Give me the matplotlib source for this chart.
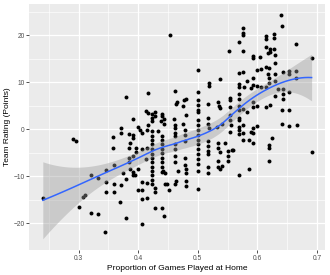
#!/usr/bin/env python
# scatter of team rating vs share of home games, with a loess smooth (ggplot look)

import numpy as np
import matplotlib
matplotlib.use("Agg")
import matplotlib.pyplot as plt

# points: (proportion of games at home, rating)
pts = [
    (0.240, -14.6), (0.290, -2.1), (0.296, -2.5), (0.300, -16.6), (0.307, -14.4),
    (0.310, -14.0), (0.321, -9.7), (0.321, -17.7), (0.333, -10.4), (0.333, -18.1),
    (0.344, -21.9), (0.346, -8.7), (0.346, -11.3), (0.346, -13.3), (0.357, -1.7),
    (0.357, -3.9), (0.359, -7.5), (0.359, -11.6), (0.359, -13.4), (0.370, -15.5),
    (0.371, 0.35), (0.371, -0.7), (0.371, -11.8), (0.375, -9.2), (0.379, 6.9),
    (0.379, -10.6), (0.379, -18.8), (0.384, -1.0), (0.384, -3.9), (0.384, -6.2),
    (0.384, -7.0), (0.387, -8.4), (0.387, -2.9), (0.391, 2.1), (0.391, -9.1),
    (0.391, -1.9), (0.392, -1.2), (0.392, -5.6), (0.392, -9.75),
    (0.397, -3.9), (0.397, -4.9), (0.400, 0.55), (0.400, -8.5), (0.400, -12.9),
    (0.395, -9.8), (0.403, -0.1), (0.406, -4.2), (0.407, -0.8), (0.407, -11.2),
    (0.407, -13.0), (0.407, -14.8), (0.407, -20.2), (0.413, 3.9), (0.413, -6.3),
    (0.414, -0.1), (0.414, -3.9), (0.414, -11.5), (0.414, -14.6), (0.416, 7.8),
    (0.416, 3.4), (0.417, 0.9),
    (0.423, 3.2), (0.423, 2.3), (0.423, 1.7), (0.423, -0.3), (0.423, -1.4),
    (0.423, -2.2), (0.423, -3.2), (0.423, -4.2), (0.423, -5.3), (0.423, -6.0),
    (0.423, -7.0), (0.423, -8.0), (0.423, -8.9), (0.423, -9.75), (0.423, -10.8),
    (0.423, -11.6), (0.428, 3.6), (0.428, 2.8), (0.428, -12.4), (0.428, -13.4),
    (0.428, -16.8), (0.434, -0.4),
    (0.440, 3.3), (0.440, 2.8), (0.439, 1.8), (0.440, -1.4), (0.440, -2.2),
    (0.440, -3.2), (0.440, -4.1), (0.440, -5.0), (0.440, -6.0), (0.440, -7.0),
    (0.440, -8.0), (0.440, -9.0), (0.440, -16.8), (0.443, 2.1), (0.443, 1.2),
    (0.444, -18.4), (0.445, -9.4), (0.445, -11.6), (0.441, -8.8), (0.448, -11.6),
    (0.452, -12.9),
    (0.454, 20.1), (0.460, 2.1), (0.461, 8.2), (0.462, 0.9), (0.462, 0.2),
    (0.462, -0.8), (0.462, -1.4), (0.462, -3.2), (0.462, -4.2), (0.462, -5.6),
    (0.462, -7.0), (0.462, -11.7), (0.463, -11.1), (0.464, 5.4), (0.465, 5.9),
    (0.466, -8.9), (0.476, 4.9), (0.476, 1.2), (0.477, 6.2), (0.478, -0.1),
    (0.478, -1.3), (0.478, -2.5), (0.478, -6.0), (0.478, -7.7), (0.480, -9.4),
    (0.480, -11.0), (0.480, -12.0), (0.481, 6.4), (0.481, 3.0), (0.481, -8.4),
    (0.500, 12.7), (0.500, 8.0), (0.500, 6.2), (0.500, 5.2), (0.500, 4.1),
    (0.500, 3.6), (0.500, 1.9), (0.500, 0.9), (0.500, -0.1), (0.500, -1.2),
    (0.500, -2.2), (0.500, -3.2), (0.500, -4.2), (0.500, -5.2), (0.500, -6.3),
    (0.500, -7.3), (0.500, -8.9), (0.500, -12.7),
    (0.517, 5.4), (0.517, 2.3), (0.517, 1.2), (0.519, 0.2), (0.517, -2.5),
    (0.517, -3.6), (0.517, -4.6), (0.517, -5.3), (0.517, -8.0), (0.517, -9.3),
    (0.518, 9.8), (0.518, 9.3), (0.532, 0.55), (0.534, 5.9), (0.536, 5.0),
    (0.538, 4.5), (0.534, -2.9), (0.534, -3.9), (0.537, -4.9), (0.534, -6.7),
    (0.534, -8.0), (0.537, -8.4), (0.541, -7.9), (0.538, 10.7), (0.540, 1.2),
    (0.545, -2.9), (0.551, -4.6), (0.551, -5.6), (0.551, -6.7), (0.553, 16.7),
    (0.554, 6.7), (0.554, 6.2), (0.554, 4.8), (0.554, 3.0), (0.554, 1.9),
    (0.556, 0.9), (0.554, -0.5), (0.557, -4.5), (0.559, -4.3),
    (0.570, 18.6), (0.570, 11.9), (0.570, 9.6), (0.570, 8.9), (0.570, 7.5),
    (0.570, 6.4), (0.570, 5.0), (0.570, 4.0), (0.570, 2.5), (0.570, 1.9),
    (0.570, 0.55), (0.570, -0.1), (0.570, -1.0), (0.570, -9.75),
    (0.576, 21.5), (0.576, 20.5), (0.576, 20.0), (0.576, 16.7), (0.576, 12.2),
    (0.576, 4.3), (0.576, 0.9), (0.576, -0.8), (0.576, -2.2), (0.578, 8.9),
    (0.582, 3.6), (0.583, 10.3), (0.586, -2.2), (0.586, -8.4), (0.590, 8.8),
    (0.590, -0.5), (0.592, 15.5), (0.592, 15.1), (0.592, 11.0), (0.592, 9.4),
    (0.592, 5.9), (0.592, 4.8), (0.592, 0.2), (0.592, -2.9), (0.592, -0.8),
    (0.600, 12.6), (0.600, 9.2), (0.600, 5.0), (0.600, 0.7), (0.604, 15.3),
    (0.606, 12.8), (0.606, 8.9), (0.614, 19.8), (0.614, 19.3), (0.615, 17.4),
    (0.615, 13.3), (0.615, 8.9), (0.615, 4.7), (0.617, 11.7), (0.618, 16.2),
    (0.620, 13.1), (0.620, 10.9), (0.620, 9.8), (0.620, -3.4), (0.620, -3.9),
    (0.620, -6.7), (0.621, 17.1), (0.621, 16.4), (0.621, 5.2), (0.624, -1.9),
    (0.628, 20.3), (0.628, 19.5), (0.628, 17.1), (0.629, 15.9), (0.629, 14.1),
    (0.629, 11.7), (0.629, 10.3), (0.629, 7.1), (0.635, 8.5), (0.639, 24.3),
    (0.642, 21.9), (0.642, 4.2), (0.642, 1.2), (0.643, 12.1), (0.643, 8.5),
    (0.643, 7.4), (0.643, 6.4), (0.653, 12.4), (0.653, 11.7), (0.653, 8.0),
    (0.653, 4.1), (0.653, 0.8), (0.664, 12.4), (0.664, 10.9), (0.665, 18.2),
    (0.666, 1.0), (0.691, 15.1), (0.691, -4.8),
]
home_prop = np.array([p[0] for p in pts])
rating = np.array([p[1] for p in pts])

x_ticks = [0.3, 0.4, 0.5, 0.6, 0.7]
y_ticks = [-20, -10, 0, 10, 20]


def loess(x, y, x_out, span=0.75):
    # local quadratic fit with tricube weights, like R's loess defaults
    n = len(x)
    q = int(np.floor(n * span))

    def row(x0):
        d = np.abs(x - x0)
        h = np.sort(d)[q - 1]
        w = np.clip(1 - (d / h) ** 3, 0, None) ** 3
        X = np.column_stack([np.ones(n), x - x0, (x - x0) ** 2])
        XtW = X.T * w
        return np.linalg.solve(XtW @ X, XtW)[0]

    L = np.array([row(v) for v in x])
    resid = y - L @ y
    M = np.eye(n) - L
    d1 = np.trace(M.T @ M)
    sigma = np.sqrt(np.sum(resid ** 2) / d1)
    rows = np.array([row(v) for v in x_out])
    fit = rows @ y
    se = sigma * np.sqrt(np.sum(rows ** 2, axis=1))
    return fit, se


xs = np.linspace(home_prop.min(), home_prop.max(), 80)
fit, se = loess(home_prop, rating, xs)
lo = fit - 1.97 * se
hi = fit + 1.97 * se

plt.rcParams['font.family'] = ['Liberation Sans', 'DejaVu Sans']

fig = plt.figure(figsize=(3.3, 2.75), dpi=100)
ax = fig.add_axes([0.089, 0.091, 0.896, 0.895])
ax.set_facecolor('#EBEBEB')
for s in ax.spines.values():
    s.set_visible(False)

ax.scatter(home_prop, rating, s=8, color='black', linewidths=0, zorder=3)
ax.fill_between(xs, lo, hi, color='#999999', alpha=0.4, linewidth=0, zorder=4)
ax.plot(xs, fit, color='#3366FF', lw=1.1, zorder=5)

# ggplot style 5% expansion
xr = home_prop.max() - home_prop.min()
ax.set_xlim(home_prop.min() - 0.05 * xr, home_prop.max() + 0.05 * xr)
ymin = min(rating.min(), lo.min())
ymax = max(rating.max(), hi.max())
yr = ymax - ymin
ax.set_ylim(ymin - 0.05 * yr, ymax + 0.05 * yr)

ax.set_xticks(x_ticks)
ax.set_xticklabels([str(t) for t in x_ticks])
ax.set_yticks(y_ticks)
ax.set_xticks([0.25, 0.35, 0.45, 0.55, 0.65], minor=True)
ax.set_yticks([-15, -5, 5, 15, 25], minor=True)
ax.grid(which='major', color='white', lw=0.9)
ax.grid(which='minor', color='white', lw=0.45)
ax.set_axisbelow(True)
ax.tick_params(which='major', length=2, width=0.6, color='#333333',
               labelsize=4.8, labelcolor='#4D4D4D', pad=1.5)
ax.tick_params(which='minor', length=0)

ax.set_xlabel('Proportion of Games Played at Home', fontsize=6, labelpad=2)
ax.set_ylabel('Team Rating (Points)', fontsize=6, labelpad=2)

fig.savefig('out.png', dpi=100)
